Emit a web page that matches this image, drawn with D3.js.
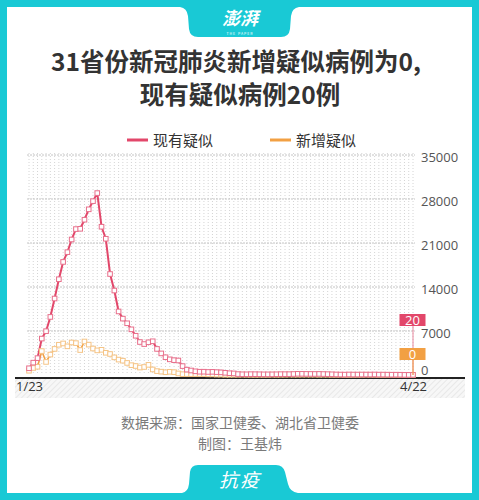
<!DOCTYPE html>
<html><head><meta charset="utf-8">
<script src="https://cdn.jsdelivr.net/npm/d3@7"></script>
<style>
html,body{margin:0;padding:0;background:#fff;}
svg{display:block;font-family:"Noto Sans CJK SC","Noto Sans",sans-serif;}
</style></head>
<body>
<script>
// ---- data ----
const startDate = new Date(2020, 0, 23);
const endDate = new Date(2020, 3, 22);
const seriesNames = ["现有疑似", "新增疑似"];
const existingSuspected = [
 1072,1965,2684,5794,6973,9239,12167,15238,17988,
 19544,21558,23214,23260,24702,26359,27657,28942,23589,21675,16067,13435,10109,8969,8228,7264,6242,5248,4922,5206,5365,4148,3434,2824,2491,2358,2308,1418,851,
 715,587,520,522,482,502,458,421,349,285,253,147,115,113,134,128,119,105,104,106,118,136,132,134,159,189,184,174,168,164,172,
 153,135,113,88,72,62,82,73,72,76,72,72,82,62,65,57,46,49,41,22,21,20];
const newSuspected = [
 680,1118,1309,3806,2077,3248,4148,4812,5019,
 4562,5173,5072,3971,5328,4833,4214,3916,4008,3536,3342,2807,2450,2277,1918,1563,1432,1185,1277,1614,882,620,530,439,508,452,248,132,141,
 129,143,143,143,102,99,60,60,36,31,33,33,45,31,25,20,27,21,24,42,27,35,39,53,37,41,45,50,43,45,31,
 40,37,21,22,26,11,8,19,22,22,39,26,22,10,8,17,16,10,5,0,4,0];
const yTicks = [0, 7000, 14000, 21000, 28000, 35000];
const xTickLabels = ["1/23", "4/22"];
const lastLabels = ["20", "0"];
const titleLines = ["31省份新冠肺炎新增疑似病例为0,", "现有疑似病例20例"];

const dates = d3.timeDay.range(startDate, d3.timeDay.offset(endDate, 1));

// ---- layout ----
const W = 479, H = 500;
const teal = "#19c9d5";
const red = "#e2476a", redMark = "#e86f8b";
const orange = "#f2a043", orangeMark = "#f5c486";

const svg = d3.select("body").append("svg").attr("width", W).attr("height", H);
const defs = svg.append("defs");
const hatch = defs.append("pattern").attr("id","hatch").attr("patternUnits","userSpaceOnUse")
  .attr("width",4).attr("height",4).attr("patternTransform","rotate(45)");
hatch.append("rect").attr("width",4).attr("height",4).attr("fill","#f7f7f7");
hatch.append("line").attr("x1",0).attr("y1",0).attr("x2",0).attr("y2",4).attr("stroke","#dcdcdc").attr("stroke-width",1.1);

// frame
svg.append("rect").attr("width",W).attr("height",H).attr("fill",teal);
svg.append("rect").attr("x",7).attr("y",7).attr("width",465).attr("height",486).attr("fill","#fff");
// top tab
svg.append("path").attr("fill",teal)
  .attr("d","M180,7 L299,7 Q292,8 291,16 L290,29 Q289,37 281,37 L198,37 Q190,37 189,29 L188,16 Q187,8 180,7 Z");
svg.append("text").attr("x",240).attr("y",25).attr("text-anchor","middle")
  .attr("fill","#fff").attr("font-size",18).attr("font-style","italic").attr("font-weight",700)
  .text("澎湃");
svg.append("text").attr("x",240).attr("y",35).attr("text-anchor","middle")
  .attr("fill","#fff").attr("font-size",3.5).attr("letter-spacing",1).text("THE PAPER");
// bottom tab
svg.append("path").attr("fill",teal)
  .attr("d","M182,493 L298,493 Q290,492 288,484 L285,472 Q283,465 276,465 L198,465 Q191,465 190,472 L189,484 Q188,492 182,493 Z");
svg.append("text").attr("x",240).attr("y",487).attr("text-anchor","middle")
  .attr("fill","#fff").attr("font-size",19).attr("font-style","italic").attr("letter-spacing",2).text("抗疫");

// title (two separate text lines)
svg.append("text").attr("x",236).attr("y",71).attr("text-anchor","middle").attr("fill","#333")
  .attr("font-size",24.5).attr("font-weight",700).text(titleLines[0]);
svg.append("text").attr("x",240).attr("y",104).attr("text-anchor","middle").attr("fill","#333")
  .attr("font-size",24.5).attr("font-weight",700).text(titleLines[1]);

// legend
const legend = [{name:seriesNames[0], c:red, x:127}, {name:seriesNames[1], c:orange, x:270}];
legend.forEach(l=>{
  svg.append("line").attr("x1",l.x).attr("x2",l.x+21).attr("y1",140).attr("y2",140)
    .attr("stroke",l.c).attr("stroke-width",3);
  svg.append("text").attr("x",l.x+26).attr("y",145.5).attr("fill","#333").attr("font-size",15).text(l.name);
});

// scales
const x = d3.scaleTime().domain([startDate, endDate]).range([29, 413]);
const y = d3.scaleLinear().domain([0, 35000]).range([375, 155]);

// grid: vertical dotted per day
svg.append("g").selectAll("line").data(dates).join("line")
  .attr("x1",d=>x(d)).attr("x2",d=>x(d)).attr("y1",153).attr("y2",375)
  .attr("stroke","#d4d4d4").attr("stroke-width",1).attr("stroke-dasharray","1,2");
// horizontal grid at ticks
svg.append("g").selectAll("line").data(yTicks.slice(1)).join("line")
  .attr("x1",27).attr("x2",415).attr("y1",d=>y(d)).attr("y2",d=>y(d))
  .attr("stroke","#c4c4c4").attr("stroke-width",1).attr("stroke-dasharray","2,1");

// right axis
const yAxis = svg.append("g").attr("transform","translate(421,0)")
  .call(d3.axisRight(y).tickValues(yTicks).tickSize(0).tickPadding(0).tickFormat(d3.format("d")));
yAxis.select(".domain").remove();
yAxis.selectAll("text").attr("fill","#555").attr("font-size",13)
  .attr("font-family","'Open Sans','Noto Sans',sans-serif")
  .attr("dy",d=> d===0 ? "-0.05em" : "0.5em");

// hatch band + axis line
svg.append("rect").attr("x",15).attr("y",379).attr("width",450).attr("height",19).attr("fill","url(#hatch)");
const xAxis = svg.append("g").attr("transform","translate(0,378)")
  .call(d3.axisBottom(x).tickValues([startDate, endDate]).tickSize(0).tickPadding(4)
    .tickFormat((d,i)=>xTickLabels[i]));
xAxis.select(".domain").remove();
xAxis.selectAll("text").attr("fill","#333").attr("font-size",13)
  .attr("font-family","'Open Sans','Noto Sans',sans-serif");
svg.append("line").attr("x1",15).attr("x2",465).attr("y1",378).attr("y2",378)
  .attr("stroke","#222").attr("stroke-width",2.2);

// series
const series = [
  {vals:newSuspected, line:orange, mark:orangeMark, lw:1.6},
  {vals:existingSuspected, line:red, mark:redMark, lw:2}
];
const lineGen = d3.line().x((d,i)=>x(dates[i])).y(d=>y(d));
series.forEach(s=>{
  svg.append("path").datum(s.vals).attr("d",lineGen).attr("fill","none")
    .attr("stroke",s.line).attr("stroke-width",s.lw).attr("stroke-linejoin","round");
});
series.forEach(s=>{
  svg.append("g").selectAll("rect").data(s.vals).join("rect")
    .attr("x",(d,i)=>x(dates[i])-2.3).attr("y",d=>y(d)-2.3).attr("width",4.6).attr("height",4.6)
    .attr("fill","#fff").attr("stroke",s.mark).attr("stroke-width",1);
});

// last value labels
const lx = x(endDate);
const boxes = [
  {label:lastLabels[0], c:red, cy:320, v:existingSuspected[existingSuspected.length-1], lc:"#e9879d"},
  {label:lastLabels[1], c:orange, cy:354, v:newSuspected[newSuspected.length-1], lc:orange}
];
boxes.forEach(b=>{
  svg.append("line").attr("x1",lx).attr("x2",lx).attr("y1",b.cy+6).attr("y2",y(b.v))
    .attr("stroke",b.lc).attr("stroke-width",1);
});
boxes.forEach(b=>{
  svg.append("rect").attr("x",lx-13.5).attr("y",b.cy-6).attr("width",26).attr("height",12).attr("fill",b.c);
  svg.append("text").attr("x",lx-0.5).attr("y",b.cy+4.5).attr("text-anchor","middle").attr("fill","#fff")
    .attr("font-size",13).attr("font-family","'Open Sans','Noto Sans',sans-serif").text(b.label);
});

// sources
svg.append("text").attr("x",240).attr("y",428).attr("text-anchor","middle").attr("fill","#7a7a7a")
  .attr("font-size",14).text("数据来源：国家卫健委、湖北省卫健委");
svg.append("text").attr("x",240).attr("y",449).attr("text-anchor","middle").attr("fill","#7a7a7a")
  .attr("font-size",14).text("制图：王基炜");
</script>
</body></html>
